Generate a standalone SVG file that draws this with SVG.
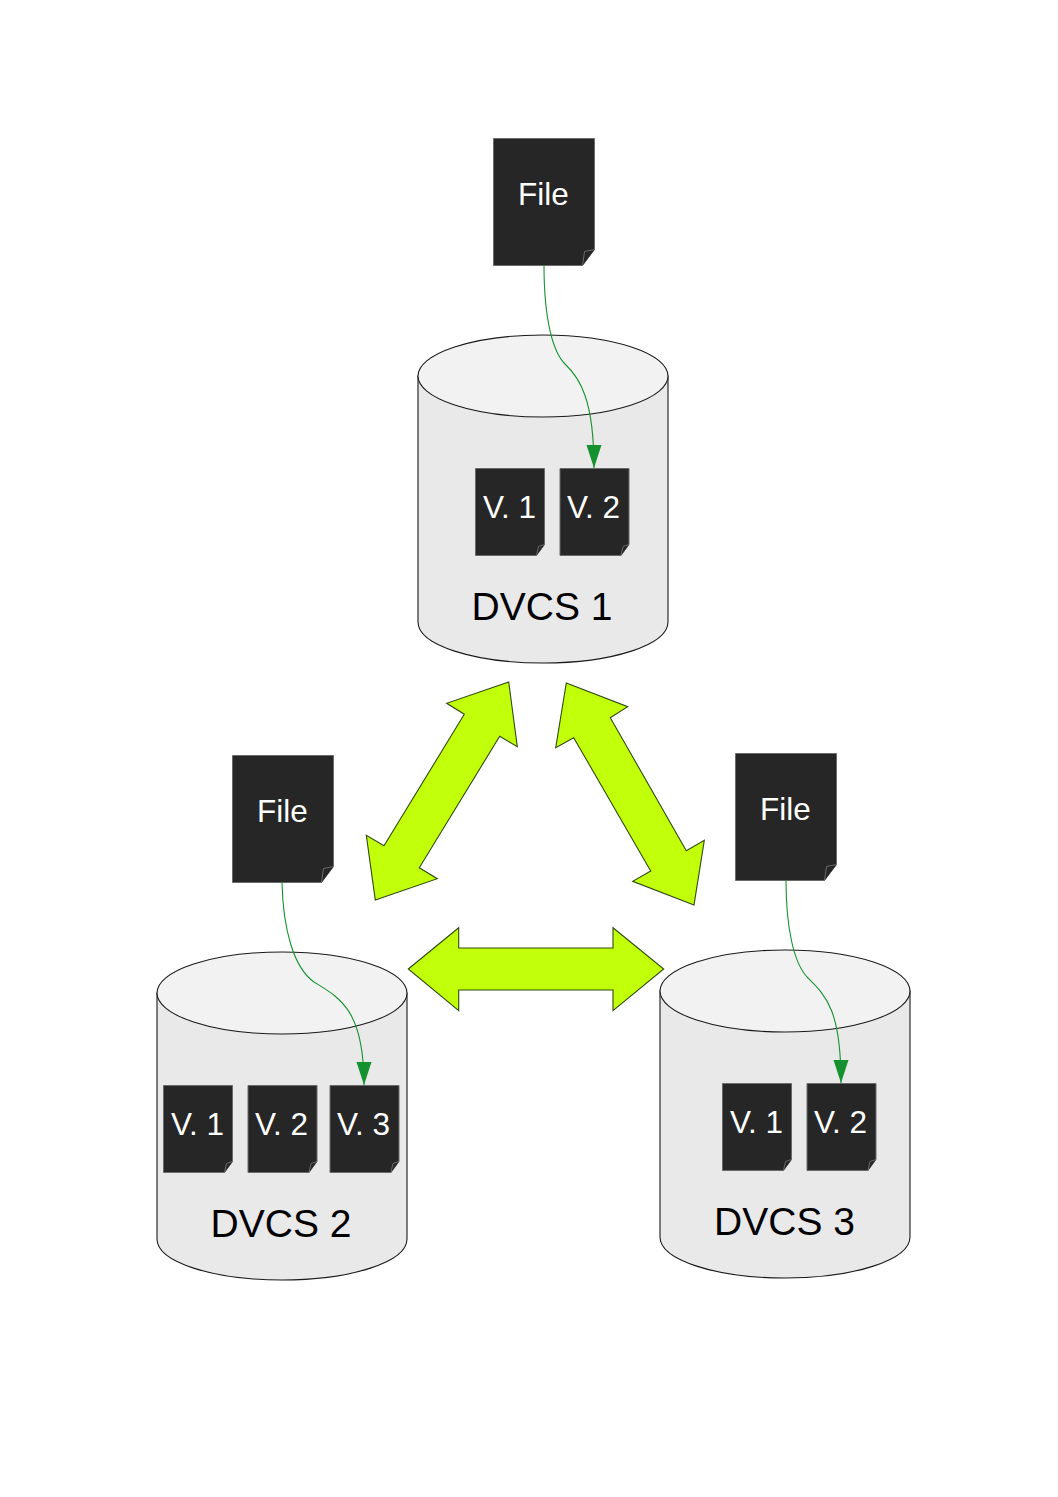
<svg xmlns="http://www.w3.org/2000/svg" width="1058" height="1497" viewBox="0 0 1058 1497">
<style>
text{font-family:"Liberation Sans",Arial,sans-serif;text-anchor:middle}
.body{fill:#e9e9e9;stroke:#1a1a1a;stroke-width:1.1}
.top{fill:#f2f2f2;stroke:#1a1a1a;stroke-width:1.1}
.doc{fill:#262626;stroke:#6a6a6a;stroke-width:1}
.fold{fill:#262626;stroke:#6a6a6a;stroke-width:1}
.dt{fill:#fff;font-size:31.500px}
.vt{fill:#fff;font-size:31.500px}
.ct{fill:#000;font-size:39px}
.big{fill:#c1ff0a;stroke:#2f4a10;stroke-width:1.1}
.link{fill:none;stroke:#15922f;stroke-width:1.1}
.tip{fill:#15922f}
</style>
<defs>
<marker id="arr" markerUnits="userSpaceOnUse" markerWidth="24" markerHeight="16" refX="23" refY="8" orient="auto" viewBox="0 0 24 16"><path class="tip" d="M0 0.500 L0 15.500 L23 8 Z"/></marker>
<g id="cyl"><path class="body" d="M0 41 V287 C0 310 56 328 125 328 C194 328 250 310 250 287 V41 Z"/><ellipse class="top" cx="125" cy="41" rx="125" ry="41"/></g>
<g id="big-doc"><path class="doc" d="M0 0 H101 V111 L89 127 H0 Z"/><path class="fold" d="M89 127 L91 113 L101 111"/></g>
<g id="small-doc"><path class="doc" d="M0 0 H69 V76 L61 87 H0 Z"/><path class="fold" d="M61 87 L63 78 L69 76"/></g>
</defs>
<g id="dvcs1"><use href="#cyl" x="418" y="335"/><text class="ct" x="542" y="620">DVCS 1</text></g>
<g id="dvcs2"><use href="#cyl" x="157" y="952"/><text class="ct" x="281" y="1237">DVCS 2</text></g>
<g id="dvcs3"><use href="#cyl" x="660" y="950"/><text class="ct" x="784.500" y="1235">DVCS 3</text></g>
<g id="file1"><use href="#big-doc" x="493.500" y="138.500"/><text class="dt" x="543.500" y="205">File</text></g>
<g id="file2"><use href="#big-doc" x="232.500" y="755.500"/><text class="dt" x="282.500" y="822">File</text></g>
<g id="file3"><use href="#big-doc" x="735.500" y="753.500"/><text class="dt" x="785.500" y="820">File</text></g>
<g id="d1v1"><use href="#small-doc" x="475.500" y="468.500"/><text class="vt" x="509.500" y="518">V. 1</text></g>
<g id="d1v2"><use href="#small-doc" x="560" y="468.500"/><text class="vt" x="593.500" y="518">V. 2</text></g>
<g id="d2v1"><use href="#small-doc" x="163.500" y="1085.500"/><text class="vt" x="197.500" y="1135">V. 1</text></g>
<g id="d2v2"><use href="#small-doc" x="248" y="1085.500"/><text class="vt" x="281.500" y="1135">V. 2</text></g>
<g id="d2v3"><use href="#small-doc" x="330" y="1085.500"/><text class="vt" x="363.500" y="1135">V. 3</text></g>
<g id="d3v1"><use href="#small-doc" x="722.500" y="1083.500"/><text class="vt" x="756.500" y="1133">V. 1</text></g>
<g id="d3v2"><use href="#small-doc" x="807" y="1083.500"/><text class="vt" x="840.500" y="1133">V. 2</text></g>
<g id="connectors">
<path class="link" marker-end="url(#arr)" d="M544 265 C544 320 553 352 565 364 C580 378 594 400 594 468"/>
<path class="link" marker-end="url(#arr)" d="M282 882 C283 930 294 968 314 982 C340 998 364 1010 364 1085"/>
<path class="link" marker-end="url(#arr)" d="M786 880 C786 925 793 963 808 978 C826 996 841 1010 841 1083"/>
<polygon class="big" points="508.700,682 517.300,746.700 499.700,736.300 419.300,867.700 437.300,878.700 375.300,900 366.300,835.300 384,845.700 464.300,714.300 446.700,703.300"/>
<polygon class="big" points="566.300,683 627.700,706.700 610.300,717.700 686.300,850.700 704.300,840.300 694,905 632.700,881.300 650.700,871 573.700,737.700 555.700,747.700"/>
<polygon class="big" points="408.300,969 458.700,927.700 458.700,948 613,948 613,927.700 663.700,969 613,1010.700 613,990 458.700,990 458.700,1010.700"/>
</g>
</svg>
